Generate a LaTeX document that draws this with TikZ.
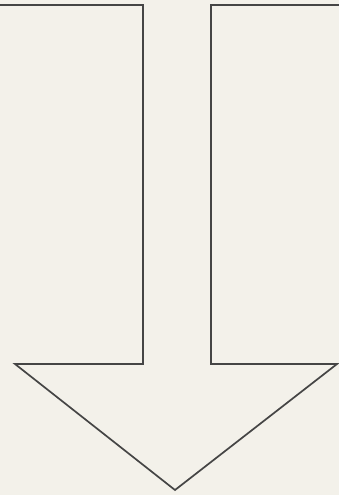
\documentclass[tikz,border=0pt]{standalone}
\definecolor{paper}{HTML}{F3F1EA}
\definecolor{ink}{HTML}{454545}
\begin{document}
\begin{tikzpicture}[x=1pt,y=-1pt,outline/.style={draw=ink,line width=1.7pt,line join=miter}]
\fill[paper] (0,0) rectangle (339,495);
\useasboundingbox (0,0) rectangle (339,495);
\draw[outline] (0,5) -- (143,5) -- (143,364) -- (15,364) -- (175,490) -- (337,364) -- (211,364) -- (211,5) -- (339,5);
\end{tikzpicture}
\end{document}
